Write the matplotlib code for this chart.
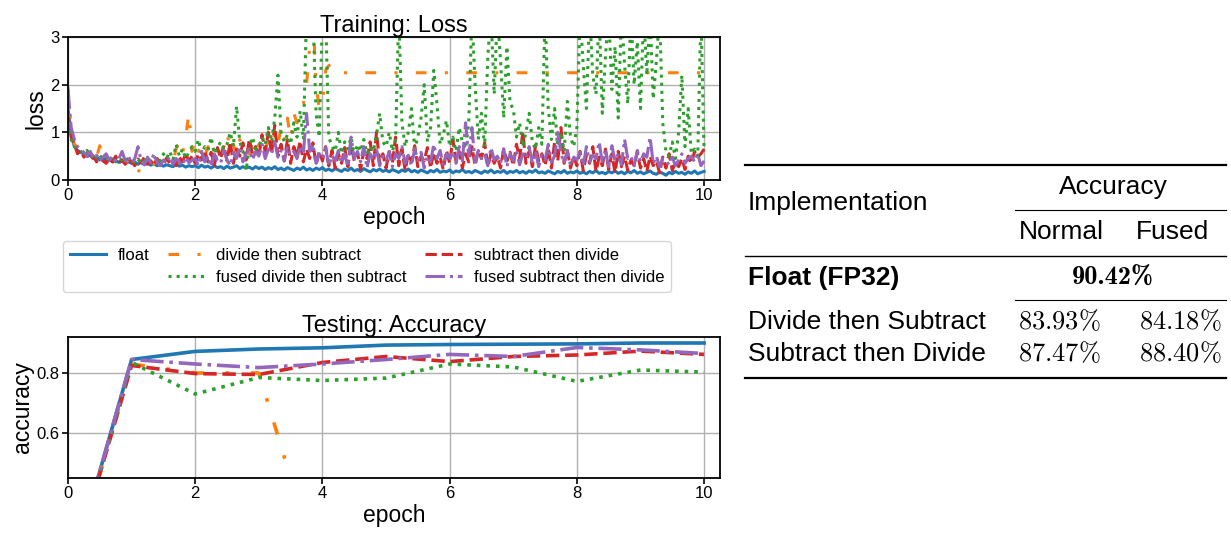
import numpy as np
import matplotlib
matplotlib.use("Agg")
import matplotlib.pyplot as plt
from matplotlib.lines import Line2D

# ---- training loss, 20 samples per epoch ----
loss_float = [
    1.50, 0.95, 0.70, 0.62, 0.58, 0.55, 0.50, 0.52, 0.45, 0.48, 0.42, 0.45, 0.40, 0.43, 0.38, 0.41, 0.37, 0.40, 0.36, 0.38,
    0.35, 0.38, 0.33, 0.37, 0.32, 0.36, 0.31, 0.34, 0.30, 0.33, 0.29, 0.32, 0.30, 0.28, 0.33, 0.29, 0.31, 0.27, 0.30, 0.28,
    0.30, 0.26, 0.31, 0.27, 0.29, 0.25, 0.30, 0.26, 0.28, 0.24, 0.29, 0.25, 0.27, 0.30, 0.24, 0.28, 0.25, 0.27, 0.23, 0.28,
    0.24, 0.27, 0.22, 0.26, 0.23, 0.28, 0.22, 0.25, 0.21, 0.26, 0.23, 0.20, 0.25, 0.22, 0.27, 0.21, 0.24, 0.20, 0.25, 0.22,
    0.26, 0.20, 0.23, 0.19, 0.24, 0.21, 0.18, 0.23, 0.20, 0.25, 0.19, 0.22, 0.18, 0.24, 0.20, 0.17, 0.22, 0.19, 0.23, 0.18,
    0.21, 0.17, 0.22, 0.19, 0.16, 0.21, 0.18, 0.23, 0.17, 0.20, 0.16, 0.21, 0.18, 0.15, 0.20, 0.17, 0.22, 0.16, 0.19, 0.17,
    0.21, 0.15, 0.19, 0.17, 0.22, 0.16, 0.18, 0.15, 0.20, 0.17, 0.14, 0.19, 0.16, 0.21, 0.15, 0.18, 0.16, 0.20, 0.14, 0.18,
    0.16, 0.20, 0.15, 0.18, 0.14, 0.19, 0.16, 0.21, 0.15, 0.17, 0.14, 0.19, 0.16, 0.13, 0.18, 0.15, 0.20, 0.14, 0.17, 0.15,
    0.19, 0.14, 0.17, 0.13, 0.18, 0.15, 0.20, 0.14, 0.16, 0.13, 0.18, 0.15, 0.19, 0.14, 0.17, 0.13, 0.18, 0.15, 0.20, 0.14,
    0.17, 0.13, 0.16, 0.19, 0.14, 0.12, 0.17, 0.14, 0.10, 0.16, 0.13, 0.18, 0.14, 0.16, 0.12, 0.17, 0.14, 0.19, 0.13, 0.16,
    0.18,
]
loss_div_sub = [
    1.95, 1.00, 0.75, 0.68, 0.58, 0.52, 0.62, 0.45, 0.55, 0.48, 0.72, 0.42, 0.50, 0.40, 0.46, 0.38, 0.44, 0.40, 0.36, 0.42,
    0.40, 0.35, 0.12, 0.38, 0.44, 0.36, 0.40, 0.33, 0.45, 0.38, 0.50, 0.42, 0.55, 0.40, 0.65, 0.80, 0.55, 0.90, 1.40, 0.60,
    0.85, 0.60, 0.75, 0.50, 0.70, 0.45, 0.65, 0.80, 0.55, 0.70, 1.00, 0.60, 0.75, 0.50, 0.85, 0.65, 0.70, 0.55, 0.80, 0.60,
    0.75, 0.90, 0.65, 0.85, 0.70, 1.00, 0.75, 1.10, 0.80, 1.30, 0.85, 1.40, 1.20, 1.50, 1.60, 2.00, 2.80, 3.50, 2.00, 1.50,
    1.60, 2.30, 2.40, 2.45, 2.40, 2.30,
] + [2.25] * 115
loss_sub_div = [
    1.35, 0.90, 0.75, 0.55, 0.62, 0.48, 0.55, 0.42, 0.50, 0.38, 0.47, 0.40, 0.35, 0.45, 0.38, 0.50, 0.36, 0.42, 0.33, 0.45,
    0.38, 0.30, 0.44, 0.36, 0.48, 0.33, 0.40, 0.30, 0.45, 0.37, 0.32, 0.46, 0.35, 0.42, 0.30, 0.48, 0.38, 0.55, 0.40, 0.50,
    0.35, 0.55, 0.42, 0.62, 0.38, 0.58, 0.30, 0.68, 0.45, 0.72, 0.40, 0.80, 0.35, 0.65, 0.50, 0.78, 0.42, 0.85, 0.55, 0.70,
    0.48, 0.95, 0.60, 1.00, 0.55, 1.15, 0.50, 0.75, 0.40, 0.85, 0.35, 0.70, 0.50, 0.82, 0.38, 0.65, 0.45, 0.78, 0.32, 0.60,
    0.40, 0.70, 0.30, 0.62, 0.25, 0.55, 0.35, 0.68, 0.28, 0.75, 0.40, 0.58, 0.22, 0.62, 0.45, 0.80, 0.30, 1.00, 0.35, 0.55,
    0.25, 0.60, 0.35, 0.90, 0.30, 0.65, 0.20, 0.55, 0.38, 0.72, 0.28, 0.50, 0.40, 0.68, 0.25, 0.58, 0.35, 0.48, 0.22, 0.62,
    0.35, 0.85, 0.40, 0.60, 0.25, 0.55, 0.38, 0.70, 0.30, 0.62, 0.45, 0.78, 0.28, 0.55, 0.35, 0.50, 0.25, 0.65, 0.40, 0.58,
    0.30, 0.75, 0.45, 1.00, 0.35, 0.60, 0.28, 0.72, 0.40, 0.55, 0.30, 0.65, 0.25, 0.80, 0.40, 1.10, 0.35, 0.62, 0.25, 0.50,
    0.30, 0.60, 0.20, 0.52, 0.35, 0.70, 0.18, 0.48, 0.30, 0.65, 0.22, 0.55, 0.15, 0.60, 0.28, 0.50, 0.20, 0.42, 0.30, 0.58,
    0.25, 0.45, 0.18, 0.50, 0.30, 0.40, 0.15, 0.48, 0.25, 0.55, 0.20, 0.38, 0.28, 0.45, 0.22, 0.50, 0.35, 0.60, 0.48, 0.55,
    0.65,
]
loss_fused_div_sub = [
    1.20, 0.85, 0.70, 0.65, 0.60, 0.55, 0.62, 0.50, 0.58, 0.45, 0.52, 0.42, 0.48, 0.40, 0.50, 0.38, 0.45, 0.42, 0.48, 0.40,
    0.42, 0.38, 0.45, 0.35, 0.40, 0.48, 0.38, 0.42, 0.50, 0.40, 0.55, 0.45, 0.60, 0.42, 0.75, 0.50, 0.65, 0.45, 0.58, 0.70,
    0.60, 0.85, 0.55, 0.70, 0.62, 0.90, 0.55, 0.68, 0.80, 0.65, 0.75, 1.00, 0.70, 1.55, 0.80, 0.60, 0.20, 0.70, 0.90, 0.65,
    0.70, 0.90, 0.75, 1.10, 0.80, 1.30, 2.20, 1.00, 0.80, 0.95, 0.75, 1.20, 0.90, 1.45, 0.85, 3.50, 3.50, 3.50, 1.40, 0.90,
    3.50, 3.50, 0.90, 0.70, 0.60, 1.00, 0.55, 0.80, 0.65, 0.90, 0.50, 0.75, 0.60, 0.85, 0.55, 0.70, 0.60, 0.95, 1.40, 0.80,
    0.70, 1.00, 0.60, 0.85, 3.50, 1.20, 0.70, 1.00, 1.50, 0.65, 0.90, 1.30, 2.00, 0.80, 1.10, 2.30, 1.60, 0.75, 0.95, 1.25,
    0.70, 0.90, 0.60, 1.10, 0.80, 0.65, 1.20, 3.50, 2.00, 0.85, 1.40, 0.70, 2.60, 3.50, 1.80, 3.50, 2.50, 1.30, 2.80, 1.60,
    1.50, 0.90, 1.20, 0.70, 1.00, 1.40, 0.80, 0.65, 1.10, 0.75, 3.50, 1.50, 0.85, 1.50, 0.70, 1.00, 0.60, 1.65, 0.90, 0.70,
    1.10, 3.50, 2.40, 1.50, 3.50, 2.20, 1.80, 3.50, 1.40, 2.60, 3.50, 1.90, 2.80, 1.30, 3.50, 2.40, 1.60, 3.50, 2.00, 2.90,
    1.50, 3.50, 2.20, 3.50, 1.70, 2.50, 3.50, 1.20, 0.60, 0.50, 0.80, 0.45, 1.00, 2.20, 0.70, 1.50, 0.55, 0.65, 0.50, 3.50,
    0.60,
]
loss_fused_sub_div = [
    1.90, 1.10, 0.85, 0.70, 0.65, 0.58, 0.50, 0.60, 0.45, 0.52, 0.40, 0.48, 0.55, 0.42, 0.50, 0.38, 0.45, 0.60, 0.40, 0.50,
    0.35, 0.45, 0.70, 0.40, 0.32, 0.48, 0.36, 0.55, 0.38, 0.30, 0.42, 0.35, 0.50, 0.33, 0.45, 0.38, 0.30, 0.48, 0.36, 0.42,
    0.45, 0.30, 0.60, 0.38, 0.50, 0.28, 0.55, 0.40, 0.35, 0.62, 0.42, 0.30, 0.58, 0.45, 0.70, 0.38, 0.55, 0.65, 0.42, 0.60,
    0.50, 0.75, 0.45, 0.65, 0.55, 0.80, 0.48, 0.62, 0.40, 0.70, 0.52, 0.60, 0.45, 0.72, 0.55, 1.40, 0.60, 0.75, 0.35, 0.55,
    0.45, 0.68, 0.30, 0.52, 0.40, 0.62, 0.35, 0.55, 0.28, 0.90, 0.45, 0.60, 0.38, 0.70, 0.25, 0.55, 0.42, 0.65, 0.30, 0.50,
    0.40, 0.60, 0.28, 0.55, 0.45, 0.70, 0.35, 0.52, 0.30, 0.65, 0.42, 0.58, 0.25, 0.50, 0.38, 0.75, 0.45, 0.62, 0.30, 0.55,
    0.45, 0.60, 0.35, 0.70, 0.40, 1.20, 0.50, 1.10, 0.38, 0.62, 0.45, 0.55, 0.30, 0.68, 0.42, 0.50, 0.35, 0.65, 0.28, 0.55,
    0.40, 0.62, 0.32, 0.55, 0.45, 0.70, 0.35, 0.60, 0.28, 0.52, 0.42, 0.75, 0.38, 0.50, 1.00, 0.55, 0.35, 0.62, 0.30, 0.48,
    0.42, 0.58, 0.30, 0.70, 0.38, 0.52, 0.45, 0.80, 0.35, 0.60, 0.28, 0.72, 0.40, 0.55, 0.32, 0.85, 0.45, 0.50, 0.30, 0.62,
    0.38, 0.55, 0.48, 0.90, 0.35, 0.50, 0.28, 0.45, 0.40, 0.32, 0.48, 0.30, 0.42, 0.55, 0.35, 0.45, 0.50, 0.38, 0.55, 0.30,
    0.40,
]
steps_per_epoch = 20

# ---- testing accuracy per epoch ----
test_epochs = [0, 1, 2, 3, 4, 5, 6, 7, 8, 9, 10]
acc_float = [0.10, 0.845, 0.872, 0.880, 0.884, 0.893, 0.895, 0.896, 0.897, 0.900, 0.900]
acc_div_sub = [0.10, 0.830, 0.800, 0.800, 0.10, 0.10, 0.10, 0.10, 0.10, 0.10, 0.10]
acc_sub_div = [0.10, 0.825, 0.798, 0.795, 0.835, 0.855, 0.838, 0.855, 0.860, 0.873, 0.862]
acc_fused_div_sub = [0.10, 0.835, 0.730, 0.785, 0.775, 0.783, 0.830, 0.820, 0.772, 0.810, 0.803]
acc_fused_sub_div = [0.10, 0.845, 0.830, 0.818, 0.830, 0.845, 0.862, 0.855, 0.885, 0.877, 0.865]

# ---- table ----
table_rows = ["Divide then Subtract", "Subtract then Divide"]
table_normal = ["83.93", "87.47"]
table_fused = ["84.18", "88.40"]
float_acc = "90.42"

W, H = 1231, 534
fig = plt.figure(figsize=(W / 100, H / 100), dpi=100)

regular = ["Liberation Sans", "DejaVu Sans"]
plt.rcParams["mathtext.fontset"] = "cm"

styles = [
    ("float", "#1f77b4", "-"),
    ("divide then subtract", "#ff7f0e", (0, (3.5, 6, 1, 6))),
    ("subtract then divide", "#d62728", "--"),
    ("fused divide then subtract", "#2ca02c", ":"),
    ("fused subtract then divide", "#9467bd", "-."),
]


def px_axes(left, top, right, bottom):
    return fig.add_axes([left / W, 1 - bottom / H, (right - left) / W, (bottom - top) / H])


def style_axes(ax, title, ylabel):
    ax.set_title(title, fontsize=17, family=regular, pad=3)
    ax.set_xlabel("epoch", fontsize=16.5, family=regular, labelpad=2)
    ax.set_ylabel(ylabel, fontsize=16.5, family=regular, labelpad=2)
    ax.grid(True, color="#b0b0b0", lw=1)
    ax.set_axisbelow(True)
    ax.set_xlim(0, 10.25)
    ax.set_xticks([0, 2, 4, 6, 8, 10])
    for lab in ax.get_xticklabels() + ax.get_yticklabels():
        lab.set_family(regular)
        lab.set_fontsize(12)
    for sp in ax.spines.values():
        sp.set_linewidth(1.3)
    ax.tick_params(length=4, width=1.2, pad=2)


# training loss
ax1 = px_axes(68, 37, 720, 180)
loss_series = [loss_float, loss_div_sub, loss_sub_div, loss_fused_div_sub, loss_fused_sub_div]
handles = []
for (label, color, ls), vals in zip(styles, loss_series):
    x = np.arange(len(vals)) / steps_per_epoch
    h, = ax1.plot(x, vals, color=color, ls=ls, lw=2.2, label=label)
    handles.append(h)
ax1.set_ylim(0, 3)
ax1.set_yticks([0, 1, 2, 3])
style_axes(ax1, "Training: Loss", "loss")

# testing accuracy
ax2 = px_axes(68, 337, 720, 478)
acc_series = [acc_float, acc_div_sub, acc_sub_div, acc_fused_div_sub, acc_fused_sub_div]
for (label, color, ls), vals in zip(styles, acc_series):
    ax2.plot(test_epochs, vals, color=color, ls=ls, lw=2.6)
ax2.set_ylim(0.45, 0.92)
ax2.set_yticks([0.6, 0.8])
style_axes(ax2, "Testing: Accuracy", "accuracy")

# legend: float alone in first column
blank = Line2D([], [], alpha=0)
leg_handles = [handles[0], blank, handles[1], handles[3], handles[2], handles[4]]
leg_labels = ["float", "", "divide then subtract", "fused divide then subtract",
              "subtract then divide", "fused subtract then divide"]
fig.legend(leg_handles, leg_labels, ncol=3, loc="upper left",
           bbox_to_anchor=(63 / W, 1 - 241 / H), prop={"family": regular, "size": 12},
           handlelength=2.2, handletextpad=0.7, columnspacing=1.1, labelspacing=0.45,
           borderpad=0.4, borderaxespad=0, frameon=True, edgecolor="#cccccc")


# table on the right
def fx(x):
    return x / W


def fy(y):
    return 1 - y / H


def rule(x0, x1, y, lw):
    fig.add_artist(Line2D([fx(x0), fx(x1)], [fy(y), fy(y)], transform=fig.transFigure,
                          color="black", lw=lw))


tsize = 19
rule(745, 1226, 165, 1.6)
fig.text(fx(748), fy(203), "Implementation", fontsize=tsize, family=regular, va="center")
fig.text(fx(1113), fy(187), "Accuracy", fontsize=tsize, family=regular, va="center", ha="center")
rule(1015, 1226, 210, 0.8)
fig.text(fx(1061), fy(232), "Normal", fontsize=tsize, family=regular, va="center", ha="center")
fig.text(fx(1173), fy(232), "Fused", fontsize=tsize, family=regular, va="center", ha="center")
rule(745, 1226, 256, 1.0)
fig.text(fx(748), fy(278), "Float (FP32)", fontsize=tsize, family=regular, weight="bold", va="center")
fig.text(fx(1113), fy(278), float_acc + "%", fontsize=tsize, family=["cmb10", "DejaVu Serif"],
         weight="bold", va="center", ha="center")
rule(1015, 1226, 300, 0.8)
for i, (name, a, b) in enumerate(zip(table_rows, table_normal, table_fused)):
    y = 322 + 32 * i
    fig.text(fx(748), fy(y), name, fontsize=tsize, family=regular, va="center")
    fig.text(fx(1101), fy(y), r"$" + a + r"\%$", fontsize=tsize, va="center", ha="right")
    fig.text(fx(1222), fy(y), r"$" + b + r"\%$", fontsize=tsize, va="center", ha="right")
rule(745, 1226, 378, 1.6)

fig.savefig("out.png", dpi=100)
